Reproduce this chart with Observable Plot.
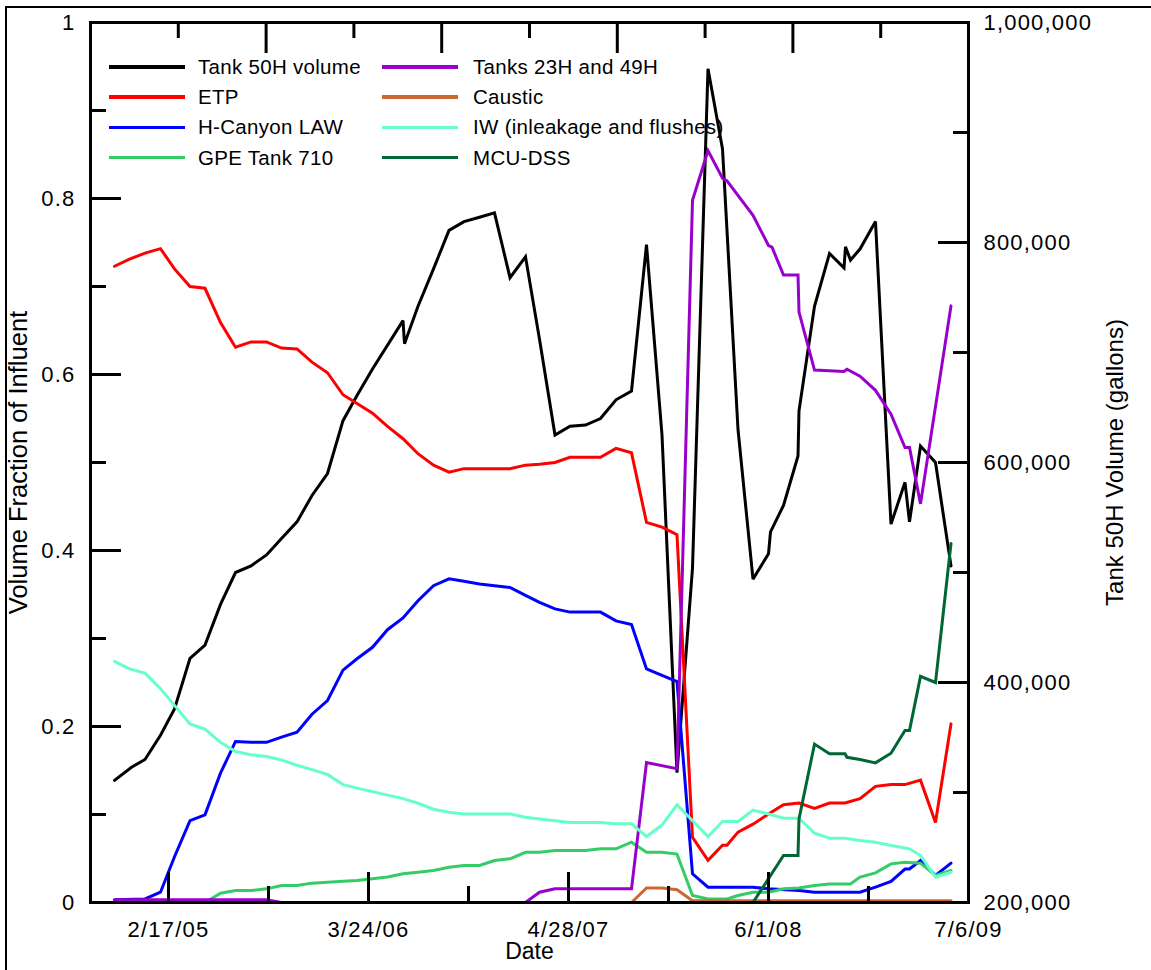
<!DOCTYPE html>
<html>
<head>
<meta charset="utf-8">
<script src="https://cdn.jsdelivr.net/npm/d3@7"></script>
<script src="https://cdn.jsdelivr.net/npm/@observablehq/plot@0.6"></script>
<style>
  html, body { margin: 0; padding: 0; background: #fff; }
  #wrap { position: relative; width: 1151px; height: 970px; overflow: hidden; font-family: "Liberation Sans", Arial, sans-serif; }
  #border { position: absolute; left: 5px; top: 6px; width: 3000px; height: 3000px; border: 2px solid #000; pointer-events: none; }
  #chart { position: absolute; left: 0; top: 0; }
  #chart g[aria-label="x-axis tick label"] text,
  #chart g[aria-label="y-axis tick label"] text { letter-spacing: 1.2px; }
  .lg-sw { position: absolute; width: 76px; height: 3.5px; }
  .lg-tx { position: absolute; font-size: 20.5px; line-height: 24px; white-space: nowrap; letter-spacing: 0.3px; color: #000; }
</style>
</head>
<body>
<div id="wrap">
  <div id="chart"></div>
  <div id="legend"></div>
  <div id="border"></div>
</div>
<script>
// ---------------- data ----------------
// Tank 50H volume, gallons (right axis)
const tank50H = [
  ["2004-11-01",311000],["2004-12-05",323000],["2005-01-01",330000],["2005-02-01",352000],
  ["2005-03-01",376000],["2005-04-01",422000],["2005-05-01",434000],["2005-06-01",471000],
  ["2005-07-01",500000],["2005-08-01",506000],["2005-09-01",516000],["2005-10-01",531000],
  ["2005-11-01",546000],["2005-12-01",570000],["2006-01-01",590000],["2006-02-01",638000],
  ["2006-03-01",661000],["2006-04-01",685000],["2006-06-01",729000],["2006-06-04",708000],
  ["2006-07-01",742000],["2006-08-01",776000],["2006-09-01",811000],["2006-10-01",819000],
  ["2006-11-01",823000],["2006-12-01",827000],["2007-01-01",768000],["2007-02-01",787000],
  ["2007-03-01",712000],["2007-04-01",625000],["2007-05-01",633000],["2007-06-01",634000],
  ["2007-07-01",640000],["2007-08-01",657000],["2007-09-01",665000],["2007-10-01",798000],
  ["2007-11-01",625000],["2007-12-01",318000],["2008-01-01",504000],["2008-02-01",958000],
  ["2008-03-01",885000],["2008-04-01",630000],["2008-05-01",494000],["2008-06-01",517000],
  ["2008-06-05",537000],["2008-07-01",561000],["2008-07-30",606000],["2008-08-01",647000],
  ["2008-09-01",742000],["2008-10-01",790000],["2008-10-30",777000],["2008-11-02",796000],
  ["2008-11-12",784000],["2008-12-01",794000],["2009-01-01",819000],["2009-02-01",544000],
  ["2009-03-01",582000],["2009-03-10",546000],["2009-04-01",615000],["2009-05-01",600000],
  ["2009-06-01",506000]
];
// Volume fractions (left axis)
const etp = [
  ["2004-11-01",0.723],["2004-12-01",0.731],["2005-01-01",0.738],["2005-02-01",0.743],
  ["2005-03-01",0.720],["2005-04-01",0.700],["2005-05-01",0.698],["2005-06-01",0.659],
  ["2005-07-01",0.631],["2005-08-01",0.637],["2005-09-01",0.637],["2005-10-01",0.630],
  ["2005-11-01",0.629],["2005-12-01",0.614],["2006-01-01",0.602],["2006-02-01",0.577],
  ["2006-03-01",0.567],["2006-04-01",0.556],["2006-05-01",0.541],["2006-06-01",0.527],
  ["2006-07-01",0.510],["2006-08-01",0.497],["2006-09-01",0.489],["2006-10-01",0.493],
  ["2006-11-01",0.493],["2006-12-01",0.493],["2007-01-01",0.493],["2007-02-01",0.497],
  ["2007-03-01",0.498],["2007-04-01",0.500],["2007-05-01",0.506],["2007-06-01",0.506],
  ["2007-07-01",0.506],["2007-08-01",0.516],["2007-09-01",0.511],["2007-10-01",0.432],
  ["2007-11-01",0.4265],["2007-12-01",0.418],["2008-01-01",0.074],["2008-02-01",0.048],
  ["2008-03-01",0.065],["2008-03-10",0.065],["2008-04-01",0.080],["2008-05-01",0.089],
  ["2008-06-01",0.1006],["2008-07-01",0.111],["2008-08-01",0.113],["2008-09-01",0.107],
  ["2008-10-01",0.113],["2008-11-01",0.113],["2008-12-01",0.118],["2009-01-01",0.132],
  ["2009-02-01",0.134],["2009-03-01",0.134],["2009-04-01",0.139],["2009-05-01",0.091],
  ["2009-06-01",0.203]
];
const hCanyon = [
  ["2004-11-01",0.003],["2005-01-01",0.004],["2005-02-01",0.0117],["2005-03-01",0.052],
  ["2005-04-01",0.093],["2005-05-01",0.0996],["2005-06-01",0.147],["2005-07-01",0.183],
  ["2005-08-01",0.182],["2005-09-01",0.182],["2005-10-01",0.188],["2005-11-01",0.1935],
  ["2005-12-01",0.214],["2006-01-01",0.2295],["2006-02-01",0.264],["2006-03-01",0.277],
  ["2006-04-01",0.290],["2006-05-01",0.310],["2006-06-01",0.3234],["2006-07-01",0.343],
  ["2006-08-01",0.360],["2006-09-01",0.3678],["2006-10-01",0.365],["2006-11-01",0.362],
  ["2006-12-01",0.360],["2007-01-01",0.358],["2007-02-01",0.349],["2007-03-01",0.341],
  ["2007-04-01",0.3337],["2007-05-01",0.330],["2007-06-01",0.330],["2007-07-01",0.330],
  ["2007-08-01",0.320],["2007-09-01",0.316],["2007-10-01",0.2655],["2007-11-01",0.258],
  ["2007-12-01",0.251],["2008-01-01",0.0326],["2008-02-01",0.0174],["2008-05-01",0.0174],
  ["2008-06-01",0.0155],["2008-08-01",0.0136],["2008-09-01",0.0117],["2008-12-01",0.0117],
  ["2009-01-01",0.0174],["2009-02-01",0.024],["2009-03-01",0.038],["2009-03-10",0.038],
  ["2009-04-01",0.0477],["2009-05-01",0.0307],["2009-06-01",0.0447]
];
const gpe710 = [
  ["2004-11-01",0],["2005-05-01",0],["2005-06-01",0.0106],["2005-07-01",0.0136],
  ["2005-08-01",0.0136],["2005-09-01",0.0155],["2005-10-01",0.0193],["2005-11-01",0.0193],
  ["2005-12-01",0.022],["2006-01-01",0.0231],["2006-02-01",0.0242],["2006-03-01",0.025],
  ["2006-04-01",0.0269],["2006-05-01",0.029],["2006-06-01",0.0326],["2006-07-01",0.0345],
  ["2006-08-01",0.0364],["2006-09-01",0.040],["2006-10-01",0.042],["2006-11-01",0.042],
  ["2006-12-01",0.0477],["2007-01-01",0.0496],["2007-02-01",0.057],["2007-03-01",0.057],
  ["2007-04-01",0.059],["2007-06-01",0.059],["2007-07-01",0.061],["2007-08-01",0.061],
  ["2007-09-01",0.0685],["2007-10-01",0.057],["2007-11-01",0.057],["2007-12-01",0.055],
  ["2008-01-01",0.008],["2008-02-01",0.004],["2008-03-10",0.004],["2008-04-01",0.008],
  ["2008-05-01",0.0117],["2008-06-01",0.0117],["2008-07-01",0.0155],["2008-08-01",0.0166],
  ["2008-09-01",0.0193],["2008-10-01",0.021],["2008-11-12",0.021],["2008-12-01",0.0288],
  ["2009-01-01",0.0337],["2009-02-01",0.0439],["2009-03-01",0.0458],["2009-04-01",0.0447],
  ["2009-05-01",0.0307],["2009-06-01",0.0364]
];
const tanks23H49H = [
  ["2004-11-01",0.003],["2005-09-01",0.003],["2005-10-01",0],["2007-02-01",0],
  ["2007-03-01",0.0117],["2007-04-01",0.0155],["2007-09-01",0.0155],["2007-10-01",0.159],
  ["2007-12-01",0.152],["2008-01-01",0.798],["2008-02-01",0.8545],["2008-03-01",0.823],
  ["2008-03-10",0.820],["2008-05-01",0.781],["2008-06-01",0.7466],["2008-06-08",0.7447],
  ["2008-07-01",0.713],["2008-07-30",0.713],["2008-08-01",0.671],["2008-09-01",0.605],
  ["2008-10-30",0.6034],["2008-11-05",0.606],["2008-12-01",0.598],["2009-01-01",0.582],
  ["2009-02-01",0.555],["2009-03-01",0.517],["2009-03-10",0.517],["2009-04-01",0.453],
  ["2009-06-01",0.678]
];
const caustic = [
  ["2004-11-01",0],["2007-09-01",0],["2007-10-01",0.0166],["2007-11-01",0.0166],
  ["2007-12-01",0.0145],["2008-01-01",0.002],["2009-06-01",0.002]
];
const iw = [
  ["2004-11-01",0.274],["2004-12-01",0.2655],["2005-01-01",0.2606],["2005-02-01",0.243],
  ["2005-03-01",0.224],["2005-04-01",0.203],["2005-05-01",0.197],["2005-06-01",0.182],
  ["2005-07-01",0.1716],["2005-08-01",0.168],["2005-09-01",0.166],["2005-10-01",0.162],
  ["2005-11-01",0.156],["2005-12-01",0.151],["2006-01-01",0.1455],["2006-02-01",0.134],
  ["2006-03-01",0.130],["2006-04-01",0.126],["2006-05-01",0.122],["2006-06-01",0.118],
  ["2006-07-01",0.1128],["2006-08-01",0.106],["2006-09-01",0.1026],["2006-10-01",0.1007],
  ["2007-01-01",0.1007],["2007-02-01",0.0969],["2007-03-01",0.095],["2007-04-01",0.093],
  ["2007-05-01",0.091],["2007-07-01",0.091],["2007-08-01",0.0894],["2007-09-01",0.0894],
  ["2007-10-01",0.075],["2007-11-01",0.088],["2007-12-01",0.111],["2008-02-01",0.075],
  ["2008-03-01",0.092],["2008-04-01",0.092],["2008-05-01",0.105],["2008-06-01",0.1006],
  ["2008-07-01",0.0957],["2008-08-01",0.0957],["2008-09-01",0.0788],["2008-10-01",0.073],
  ["2008-11-01",0.073],["2008-12-01",0.0705],["2009-01-01",0.0685],["2009-02-01",0.0648],
  ["2009-03-01",0.062],["2009-03-10",0.061],["2009-04-01",0.0534],["2009-05-01",0.0288],
  ["2009-06-01",0.0344]
];
const mcuDss = [
  ["2004-11-01",0],["2008-05-01",0],["2008-07-01",0.0534],["2008-07-30",0.0534],
  ["2008-08-01",0.095],["2008-09-01",0.180],["2008-10-01",0.169],["2008-11-01",0.169],
  ["2008-11-05",0.165],["2008-12-01",0.1625],["2009-01-01",0.1587],["2009-02-01",0.1697],
  ["2009-03-01",0.1955],["2009-03-10",0.1955],["2009-04-01",0.257],["2009-05-01",0.250],
  ["2009-06-01",0.408]
];

// series names / colours (legend order)
const seriesNames = ["Tank 50H volume","ETP","H-Canyon LAW","GPE Tank 710",
                     "Tanks 23H and 49H","Caustic","IW (inleakage and flushes)","MCU-DSS"];
const seriesColors = ["#000000","#ff0000","#0000ff","#33cc66","#9900cc","#cc6633","#66ffcc","#006633"];

// axes
const xDomain = ["2004-09-14","2009-07-06"];
const dateTicks = ["2005-02-17","2006-03-24","2007-04-28","2008-06-01","2009-07-06"];
const leftMajor = [0, 0.2, 0.4, 0.6, 0.8, 1];
const leftMinor = [0.1, 0.3, 0.5, 0.7, 0.9];
const rightMajor = [200000, 400000, 600000, 800000, 1000000];
const rightMinor = [300000, 500000, 700000, 900000];
const volDomain = [200000, 1000000];
const topMajorFrac = [0.2, 0.4, 0.6, 0.8];
const topMinorFrac = [0.1, 0.3, 0.5, 0.7, 0.9];

// ---------------- chart ----------------
const toFrac = v => (v - volDomain[0]) / (volDomain[1] - volDomain[0]);
const fromFrac = f => volDomain[0] + f * (volDomain[1] - volDomain[0]);
const parse = s => new Date(s + "T00:00:00Z");
const x0 = parse(xDomain[0]), x1 = parse(xDomain[1]);
const dTicks = dateTicks.map(parse);
const dMinor = dTicks.slice(0, -1).map(d => d3.utcDay.offset(d, 200));
const fracDate = f => new Date(+x0 + f * (x1 - x0));

const allSeries = [tank50H, etp, hCanyon, gpe710, tanks23H49H, caustic, iw, mcuDss];
const drawOrder = [0, 1, 2, 3, 4, 5, 6, 7];

const lineMarks = drawOrder.map(i => Plot.line(allSeries[i], {
  x: d => parse(d[0]),
  y: i === 0 ? d => toFrac(d[1]) : d => d[1],
  stroke: seriesColors[i],
  strokeWidth: 3,
  strokeLinejoin: "miter",
  strokeMiterlimit: 3
}));

const fmtDate = d3.utcFormat("%-m/%-d/%y");

const chart = Plot.plot({
  width: 1151,
  height: 970,
  marginLeft: 90,
  marginRight: 183,
  marginTop: 22,
  marginBottom: 68,
  x: {type: "utc", domain: [x0, x1]},
  y: {domain: [0, 1]},
  style: {fontFamily: "'Liberation Sans', Arial, sans-serif", fontSize: "22px", color: "#000", background: "transparent", overflow: "visible"},
  marks: [
    ...lineMarks,
    Plot.frame({stroke: "#000", strokeWidth: 3}),
    // inward tick marks
    Plot.axisY(leftMajor, {anchor: "left", tickSize: -31, strokeWidth: 3, fill: "none", label: null}),
    Plot.axisY(leftMinor, {anchor: "left", tickSize: -16, strokeWidth: 3, fill: "none", label: null}),
    Plot.axisY(rightMajor.map(toFrac), {anchor: "right", tickSize: -31, strokeWidth: 3, fill: "none", label: null}),
    Plot.axisY(rightMinor.map(toFrac), {anchor: "right", tickSize: -16, strokeWidth: 3, fill: "none", label: null}),
    Plot.axisX(dTicks, {anchor: "bottom", tickSize: -30, strokeWidth: 3, fill: "none", label: null}),
    Plot.axisX(dMinor, {anchor: "bottom", tickSize: -16, strokeWidth: 3, fill: "none", label: null}),
    Plot.axisX(topMajorFrac.map(fracDate), {anchor: "top", tickSize: -30, strokeWidth: 3, fill: "none", label: null}),
    Plot.axisX(topMinorFrac.map(fracDate), {anchor: "top", tickSize: -15, strokeWidth: 3, fill: "none", label: null}),
    // tick labels
    Plot.axisY(leftMajor, {anchor: "left", tickSize: 0, tickPadding: 15, tickFormat: d => String(d), fontSize: 22, label: null}),
    Plot.axisY(rightMajor.map(toFrac), {anchor: "right", tickSize: 0, tickPadding: 15, tickFormat: f => d3.format(",")(Math.round(fromFrac(f))), fontSize: 22, label: null}),
    Plot.axisX(dTicks, {anchor: "bottom", tickSize: 0, tickPadding: 19, tickFormat: fmtDate, fontSize: 22, label: null}),
    // axis titles
    Plot.text(["Volume Fraction of Influent"], {frameAnchor: "left", dx: -72, rotate: -90, textAnchor: "middle", fontSize: 25.5}),
    Plot.text(["Tank 50H Volume (gallons)"], {frameAnchor: "right", dx: 147, rotate: -90, textAnchor: "middle", fontSize: 24}),
    Plot.text(["Date"], {frameAnchor: "bottom", dy: 56, textAnchor: "middle", fontSize: 23})
  ]
});
document.getElementById("chart").appendChild(chart);

// ---------------- legend (overlay inside plot area) ----------------
const legend = document.getElementById("legend");
const legendCols = [{sw: 109, tx: 198}, {sw: 382, tx: 473}];
const legendRow0 = 67, legendRowStep = 30.2;
seriesNames.forEach((name, i) => {
  const col = legendCols[Math.floor(i / 4)];
  const cy = legendRow0 + (i % 4) * legendRowStep;
  const sw = document.createElement("div");
  sw.className = "lg-sw";
  sw.style.left = col.sw + "px";
  sw.style.top = (cy - 1.75) + "px";
  sw.style.background = seriesColors[i];
  legend.appendChild(sw);
  const tx = document.createElement("div");
  tx.className = "lg-tx";
  tx.style.left = col.tx + "px";
  tx.style.top = (cy - 12) + "px";
  tx.textContent = name;
  legend.appendChild(tx);
});
</script>
</body>
</html>
